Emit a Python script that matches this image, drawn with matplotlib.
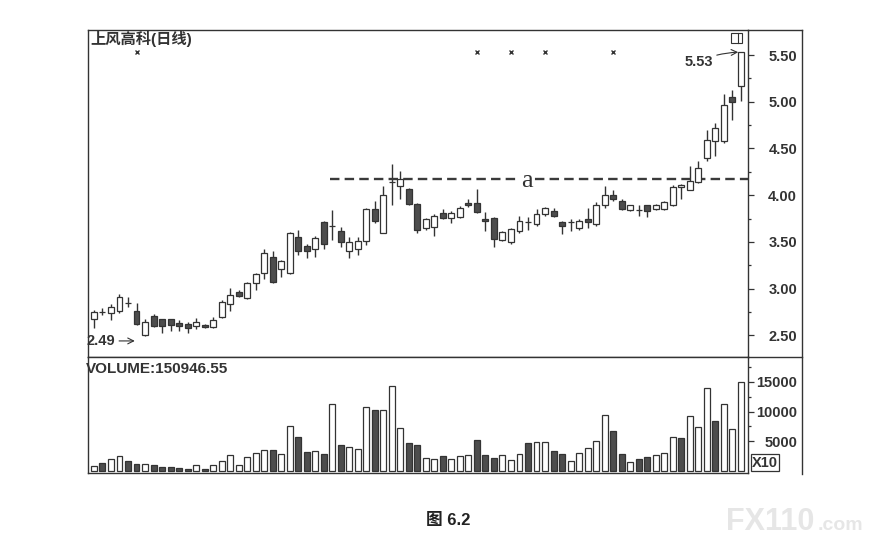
import matplotlib.pyplot as plt
import numpy as np
from matplotlib.lines import Line2D
from matplotlib.patches import Rectangle

plt.rcParams["font.family"] = ["Liberation Sans", "Noto Sans CJK SC", "DejaVu Sans"]

# ---- data --------------------------------------------------------------
stock_name = "上风高科(日线)"
caption = "图 6.2"
volume_label = "VOLUME:150946.55"

opens = [2.67, 2.75, 2.74, 2.76, 2.85, 2.76, 2.50, 2.71, 2.67, 2.67,
         2.63, 2.62, 2.60, 2.61, 2.59, 2.70, 2.84, 2.96, 2.90, 3.06,
         3.17, 3.34, 3.21, 3.17, 3.55, 3.46, 3.42, 3.71, 3.67, 3.62,
         3.40, 3.42, 3.51, 3.85, 3.60, 4.14, 4.10, 4.07, 3.91, 3.65,
         3.66, 3.81, 3.76, 3.77, 3.92, 3.92, 3.75, 3.76, 3.52, 3.50,
         3.62, 3.71, 3.69, 3.80, 3.83, 3.71, 3.71, 3.65, 3.74, 3.69,
         3.89, 4.00, 3.94, 3.84, 3.84, 3.89, 3.85, 3.85, 3.90, 4.09,
         4.06, 4.14, 4.40, 4.58, 4.58, 5.05, 5.17]
highs = [2.77, 2.79, 2.83, 2.94, 2.91, 2.85, 2.68, 2.73, 2.68, 2.68,
         2.66, 2.64, 2.69, 2.62, 2.70, 2.88, 3.01, 2.98, 3.07, 3.17,
         3.42, 3.40, 3.31, 3.61, 3.63, 3.48, 3.56, 3.72, 3.84, 3.66,
         3.55, 3.55, 3.86, 3.94, 4.10, 4.33, 4.26, 4.08, 3.92, 3.76,
         3.80, 3.85, 3.83, 3.88, 3.96, 4.07, 3.82, 3.77, 3.62, 3.65,
         3.78, 3.77, 3.85, 3.87, 3.86, 3.72, 3.74, 3.75, 3.86, 3.93,
         4.10, 4.05, 3.96, 3.90, 3.90, 3.90, 3.91, 3.94, 4.11, 4.12,
         4.31, 4.37, 4.70, 4.77, 5.08, 5.13, 5.53]
lows = [2.58, 2.72, 2.66, 2.74, 2.80, 2.61, 2.49, 2.59, 2.52, 2.55,
        2.55, 2.52, 2.57, 2.58, 2.58, 2.69, 2.76, 2.91, 2.89, 2.98,
        3.10, 3.06, 3.12, 3.16, 3.36, 3.33, 3.34, 3.42, 3.52, 3.44,
        3.33, 3.36, 3.47, 3.70, 3.59, 3.90, 3.96, 3.90, 3.59, 3.63,
        3.56, 3.74, 3.70, 3.76, 3.87, 3.81, 3.62, 3.45, 3.51, 3.48,
        3.60, 3.63, 3.67, 3.78, 3.77, 3.58, 3.62, 3.63, 3.65, 3.67,
        3.86, 3.94, 3.84, 3.83, 3.78, 3.77, 3.84, 3.84, 3.88, 3.96,
        4.05, 4.13, 4.37, 4.42, 4.56, 4.80, 5.01]
closes = [2.75, 2.75, 2.80, 2.91, 2.85, 2.62, 2.64, 2.60, 2.60, 2.61,
          2.60, 2.58, 2.64, 2.59, 2.66, 2.86, 2.93, 2.92, 3.06, 3.16,
          3.38, 3.07, 3.30, 3.60, 3.40, 3.40, 3.54, 3.48, 3.67, 3.50,
          3.50, 3.51, 3.85, 3.72, 4.00, 4.14, 4.17, 3.91, 3.63, 3.74,
          3.78, 3.76, 3.81, 3.86, 3.89, 3.82, 3.72, 3.53, 3.61, 3.64,
          3.72, 3.71, 3.80, 3.86, 3.78, 3.67, 3.71, 3.72, 3.71, 3.89,
          4.00, 3.96, 3.85, 3.89, 3.84, 3.83, 3.89, 3.93, 4.09, 4.11,
          4.15, 4.29, 4.59, 4.72, 4.97, 5.00, 5.53]
volumes = [930, 1420, 2130, 2570, 1750, 1310, 1200, 1040, 660, 770,
           600, 380, 1040, 380, 1040, 1750, 2790, 1040, 2400, 3120,
           3500, 3600, 2840, 7600, 5690, 3230, 3390, 2840, 11320, 4430,
           4050, 3770, 10770, 10220, 10220, 14320, 7170, 4700, 4430, 2240,
           2020, 2510, 2130, 2510, 2670, 5250, 2670, 2300, 2670, 1970,
           2950, 4760, 4860, 4860, 3340, 2950, 1700, 3060, 3940, 5140,
           9400, 6670, 2950, 1590, 2130, 2400, 2670, 3120, 5690, 5580,
           9240, 7490, 13990, 8420, 11260, 7050, 14970]
# u = hollow (rising) volume bar, d = filled
volume_dirs = ("uduudduddd" "dduduuuuuu" "uduuddudud" "uuuduuuddu"
               "uduuuddduu" "uduudduuuu" "uddudduuud" "uuuduuu")

signal_days = [5, 45, 49, 53, 61]
resistance_level = 4.17
resistance_start = 27.7
resistance_label = "a"

price_ticks = [2.50, 3.00, 3.50, 4.00, 4.50, 5.00, 5.50]
price_minor = [2.75, 3.25, 3.75, 4.25, 4.75, 5.25]
volume_ticks = [5000, 10000, 15000]
volume_minor = [7500, 12500, 17500]

# ---- layout helpers (pixel -> figure fraction) -------------------------
W, H = 873, 543
DARK = "#333333"
FILL = "#4d4d4d"


def fx(px):
    return px / W


def fy(py):
    return 1 - py / H


fig = plt.figure(figsize=(W / 100, H / 100), dpi=100)
ax = fig.add_axes([fx(88), fy(357), fx(748) - fx(88), fy(29.5) - fy(357)])
axv = fig.add_axes([fx(88), fy(473), fx(748) - fx(88), fy(357) - fy(473)])

x = np.arange(len(opens))
o = np.array(opens)
c = np.array(closes)
up = c >= o

# candles
ax.vlines(x, lows, highs, color=DARK, lw=1.0, zorder=1)
ax.bar(x, np.abs(c - o), bottom=np.minimum(o, c), width=0.7,
       color=np.where(up, "white", FILL), edgecolor=DARK, lw=0.9, zorder=2)

# signal marks along the top
ax.plot(signal_days, [5.53] * len(signal_days), "x", ms=3.5, mew=1.0,
        color=DARK, zorder=3)

# dashed resistance line "a"
ax.hlines(resistance_level, resistance_start, len(opens), colors="#3a3a3a",
          lw=1.7, linestyles=(0, (4, 2.2)), zorder=1)
ax.text(50.9, resistance_level - 0.085, resistance_label, family="Liberation Serif",
        fontsize=19, color=DARK, ha="center", va="baseline", zorder=4,
        bbox=dict(boxstyle="square,pad=0.05", fc="white", ec="none"))

# high / low annotations
hi_idx = int(np.argmax(highs))
lo_idx = int(np.argmin(lows))
ax.annotate(f"{highs[hi_idx]:.2f}", xy=(hi_idx - 0.3, highs[hi_idx]),
            xytext=(72.7, 5.43), ha="right", va="center", fontsize=10.5,
            fontweight="bold", color=DARK,
            arrowprops=dict(arrowstyle="->", color=DARK, lw=0.8,
                            connectionstyle="arc3,rad=-0.1",
                            shrinkA=1, shrinkB=0))
ax.annotate(f"{lows[lo_idx]:.2f}", xy=(lo_idx - 1.2, 2.44),
            xytext=(-0.9, 2.44), ha="left", va="center", fontsize=10.5,
            fontweight="bold", color=DARK,
            arrowprops=dict(arrowstyle="->", color=DARK, lw=0.8,
                            shrinkA=1, shrinkB=0))

ax.text(0.003, 0.994, stock_name, transform=ax.transAxes, ha="left", va="top",
        fontsize=11, fontweight="bold", color=DARK)

# small window icon top right
ax.add_patch(Rectangle((fx(731), fy(43)), fx(11), 10 / H, transform=fig.transFigure,
                       fill=False, ec=DARK, lw=0.8))
fig.add_artist(Line2D([fx(738), fx(738)], [fy(43), fy(33)], color=DARK, lw=0.8))

ax.set_xlim(-0.7, 76.85)
ax.set_ylim(2.268, 5.773)

# volume bars
vol_up = np.array([d == "u" for d in volume_dirs])
axv.bar(x, volumes, width=0.7, color=np.where(vol_up, "white", FILL),
        edgecolor=DARK, lw=0.9)
axv.set_xlim(-0.7, 76.85)
axv.set_ylim(-270, 19110)
axv.text(-0.003, 0.96, volume_label, transform=axv.transAxes, ha="left", va="top",
         fontsize=11, fontweight="bold", color=DARK)
axv.text(1.006, 0.03, "X10", transform=axv.transAxes, ha="left", va="bottom",
         fontsize=10.5, fontweight="bold", color=DARK,
         bbox=dict(boxstyle="square,pad=0.1", fc="white", ec=DARK, lw=0.9))

# axes styling
for a, ticks, minor, fmt in [(ax, price_ticks, price_minor, "{:.2f}"),
                             (axv, volume_ticks, volume_minor, "{:d}")]:
    a.set_xticks([])
    a.yaxis.tick_right()
    a.set_yticks(ticks)
    a.set_yticks(minor, minor=True)
    a.set_yticklabels([fmt.format(t) for t in ticks])
    a.tick_params(axis="y", which="major", direction="out", length=4.3, width=0.9,
                  color=DARK, pad=31, labelsize=10.5, labelcolor=DARK)
    a.tick_params(axis="y", which="minor", direction="out", length=2.2, width=0.9,
                  color=DARK)
    for lbl in a.get_yticklabels():
        lbl.set_ha("right")
        lbl.set_fontweight("bold")
    for s in a.spines.values():
        s.set_color(DARK)
        s.set_linewidth(1.0)

# outer frame around the label column
frame = dict(color=DARK, lw=1.0)
fig.add_artist(Line2D([fx(748), fx(801.5)], [fy(29.5), fy(29.5)], **frame))
fig.add_artist(Line2D([fx(748), fx(801.5)], [fy(357), fy(357)], **frame))
fig.add_artist(Line2D([fx(801.5), fx(801.5)], [fy(29.5), fy(474)], **frame))

# caption and watermark
fig.text(fx(448), fy(520), caption, ha="center", va="center", fontsize=12,
         fontweight="bold", color="#222222")
fig.text(fx(726), fy(530), "FX110", ha="left", va="baseline", fontsize=22,
         fontweight="bold", color="#e6e6e6")
fig.text(fx(818), fy(530), ".com", ha="left", va="baseline", fontsize=14,
         fontweight="bold", color="#e6e6e6")

fig.savefig("out.png", dpi=100)
